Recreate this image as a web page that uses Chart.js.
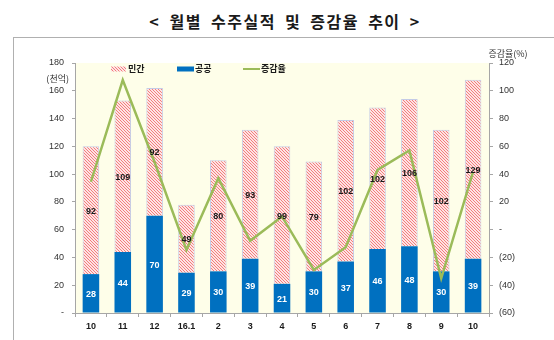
<!DOCTYPE html>
<html>
<head>
<meta charset="utf-8">
<script src="https://cdn.jsdelivr.net/npm/chart.js@4"></script>
<style>
  body { margin:0; background:#fff; }
  .wrap { position:relative; width:554px; height:340px; overflow:hidden; }
  .title { position:absolute; left:0; top:9px; width:570px; text-align:center;
           font:bold 16px "Noto Sans CJK KR", sans-serif; color:#1a1a1a; letter-spacing:1.5px; word-spacing:4px; }
  .frame { position:absolute; left:13px; top:37px; width:600px; height:400px; border:1px solid #b0b0b0; }
  canvas { position:absolute; left:0; top:0; }
</style>
</head>
<body>
<div class="wrap">
  <div class="frame"></div>
  <div class="title">&lt; 월별 수주실적 및 증감율 추이 &gt;</div>
  <canvas id="js-chart" width="554" height="340"></canvas>
</div>
<script>
  /* ━━━━  DATA  ━━━━ */
  const MONTHS  = ['10','11','12','16.1','2','3','4','5','6','7','8','9','10'];
  const PUBLIC  = [28, 44, 70, 29, 30, 39, 21, 30, 37, 46, 48, 30, 39];
  const PRIVATE = [92, 109, 92, 49, 80, 93, 99, 79, 102, 102, 106, 102, 129];
  const GROWTH  = [34.5, 107.7, 48.5, -14.6, 37, -8, 9.5, -29, -12.7, 43, 57, -35, 41.7];
  const LEFT_TICKS  = [0, 20, 40, 60, 80, 100, 120, 140, 160, 180];
  const RIGHT_TICKS = [-60, -40, -20, 0, 20, 40, 60, 80, 100, 120];

  const BLUE  = '#0070c0';
  const GREEN = '#9bbb59';
  const AXIS  = '#a6a6a6';
  const FONT  = "'Liberation Sans', Arial, sans-serif";
  const KFONT = "'Noto Sans CJK KR', sans-serif";

  /* hatched fill for 민간 */
  function makeHatch() {
    const c = document.createElement('canvas');
    c.width = 3; c.height = 3;
    const g = c.getContext('2d');
    g.fillStyle = '#fde4e4';
    g.fillRect(0, 0, 3, 3);
    g.fillStyle = '#f47c7c';
    g.fillRect(0, 0, 1, 1);
    g.fillRect(1, 1, 1, 1);
    g.fillRect(2, 2, 1, 1);
    return g.createPattern(c, 'repeat');
  }
  const hatch = makeHatch();

  /* plot background */
  const bgPlugin = {
    id: 'plotBg',
    beforeDraw(chart) {
      const { ctx, chartArea: a } = chart;
      ctx.save();
      ctx.fillStyle = '#fefee9';
      ctx.fillRect(a.left, a.top, a.right - a.left, a.bottom - a.top);
      ctx.restore();
    }
  };

  /* bar value labels, legend, axis titles */
  const extrasPlugin = {
    id: 'extras',
    afterDatasetsDraw(chart) {
      const ctx = chart.ctx;
      ctx.save();
      ctx.textAlign = 'center';
      ctx.textBaseline = 'middle';
      ctx.font = 'bold 9px ' + FONT;
      [0, 1].forEach(di => {
        const meta = chart.getDatasetMeta(di);
        ctx.fillStyle = di === 0 ? '#ffffff' : '#1a1a1a';
        meta.data.forEach((bar, i) => {
          const v = chart.data.datasets[di].data[i];
          ctx.fillText(String(v), bar.x, (bar.y + bar.base) / 2 + 1);
        });
      });
      ctx.restore();
    },
    afterDraw(chart) {
      const ctx = chart.ctx;
      const a = chart.chartArea;
      ctx.save();
      // legend inside plot
      const ly = a.top + 6;
      ctx.font = 'bold 9px ' + KFONT;
      ctx.textBaseline = 'middle';
      ctx.textAlign = 'left';
      ctx.fillStyle = hatch;
      ctx.fillRect(111, ly - 2.5, 15, 5);
      ctx.fillStyle = '#1a1a1a';
      ctx.fillText('민간', 128, ly);
      ctx.fillStyle = BLUE;
      ctx.fillRect(177, ly - 2.5, 17, 5);
      ctx.fillStyle = '#1a1a1a';
      ctx.fillText('공공', 195, ly);
      ctx.strokeStyle = GREEN;
      ctx.lineWidth = 2;
      ctx.beginPath(); ctx.moveTo(243, ly); ctx.lineTo(260, ly); ctx.stroke();
      ctx.fillText('증감율', 261, ly);
      // axis titles
      ctx.font = '9px ' + KFONT;
      ctx.fillStyle = '#333';
      ctx.textAlign = 'right';
      ctx.fillText('(천억)', 69, a.top + 16);
      ctx.textAlign = 'center';
      ctx.fillText('증감율(%)', 508, a.top - 9);
      ctx.restore();
    }
  };

  new Chart(document.getElementById('js-chart').getContext('2d'), {
    data: {
      labels: MONTHS,
      datasets: [
        {
          type: 'bar', label: '공공', data: PUBLIC, yAxisID: 'y',
          backgroundColor: BLUE, borderWidth: 0,
          categoryPercentage: 1, barPercentage: 0.52, order: 2
        },
        {
          type: 'bar', label: '민간', data: PRIVATE, yAxisID: 'y',
          backgroundColor: hatch, borderColor: '#c4cbe6', borderWidth: 1, borderSkipped: 'bottom',
          categoryPercentage: 1, barPercentage: 0.52, order: 2
        },
        {
          type: 'line', label: '증감율', data: GROWTH, yAxisID: 'y1',
          borderColor: GREEN, borderWidth: 2.5, pointRadius: 0, tension: 0, order: 1
        }
      ]
    },
    options: {
      responsive: false,
      animation: false,
      layout: { padding: { top: 63, left: 0, right: 0, bottom: 0 } },
      plugins: { legend: { display: false }, tooltip: { enabled: false } },
      scales: {
        x: {
          stacked: true,
          offset: true,
          afterFit: s => { s.height = 27; },
          grid: { offset: true, drawOnChartArea: false, drawTicks: true, tickLength: 4, color: AXIS },
          border: { color: AXIS },
          ticks: { color: '#1a1a1a', font: { family: FONT, size: 9, weight: 'bold' }, padding: 4, maxRotation: 0, autoSkip: false }
        },
        y: {
          stacked: true,
          position: 'left',
          min: 0, max: 180,
          afterFit: s => { s.width = 75; },
          afterBuildTicks: s => { s.ticks = LEFT_TICKS.map(v => ({ value: v })); },
          grid: { drawOnChartArea: false, tickLength: 3, color: AXIS },
          border: { color: AXIS },
          ticks: {
            color: '#333', font: { family: FONT, size: 9 }, padding: 8,
            callback: v => v === 0 ? '-' : v
          }
        },
        y1: {
          position: 'right',
          min: -60, max: 120,
          afterFit: s => { s.width = 65; },
          afterBuildTicks: s => { s.ticks = RIGHT_TICKS.map(v => ({ value: v })); },
          grid: { drawOnChartArea: false, tickLength: 4, color: AXIS },
          border: { color: AXIS },
          ticks: {
            color: '#333', font: { family: FONT, size: 9 }, padding: 6,
            callback: v => v === 0 ? '-' : (v < 0 ? '(' + (-v) + ')' : v)
          }
        }
      }
    },
    plugins: [bgPlugin, extrasPlugin]
  });
</script>
</body>
</html>
